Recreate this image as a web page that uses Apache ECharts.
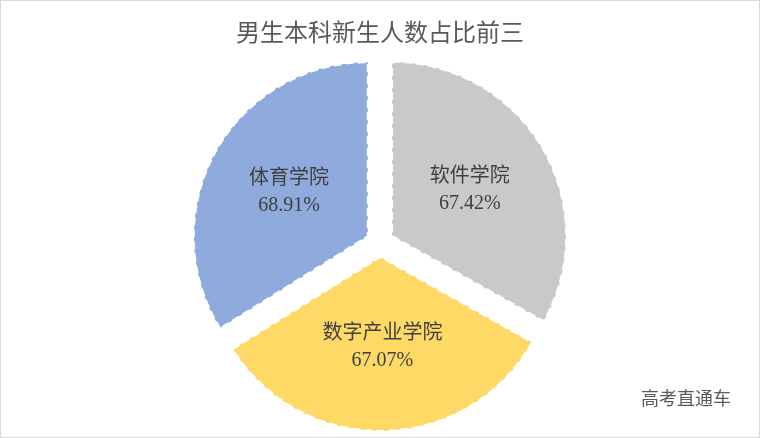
<!DOCTYPE html>
<html><head><meta charset="utf-8">
<script src="https://cdn.jsdelivr.net/npm/echarts@6/dist/echarts.min.js"></script>
<style>html,body{margin:0;padding:0;background:#fff}
#c{width:758px;height:436px;border:1px solid #d9d9d9}</style>
</head><body><div id="c"></div>
<script>
var names = ['软件学院', '数字产业学院', '体育学院'];
var values = [67.42, 67.07, 68.91];
var colors = ['#C9C9C9', '#FFD966', '#8FAADC'];

var chart = echarts.init(document.getElementById('c'));
chart.setOption({
  animation: false,
  title: {
    text: '男生本科新生人数占比前三', left: 'center', top: 14,
    textStyle: {fontSize: 24, fontWeight: 'normal', color: '#595959', fontFamily: 'Noto Sans CJK SC'}
  },
  graphic: [{type: 'text', right: 28, bottom: 30,
    style: {text: '高考直通车', fontSize: 18, fill: '#595959', fontFamily: 'Noto Sans CJK SC'}}],
  series: [{
    type: 'pie', center: ['50%', '55.5%'], radius: ['0%', '174'],
    startAngle: 90, clockwise: true,
    selectedMode: 'multiple', selectedOffset: 14,
    itemStyle: {borderColor: '#fff', borderWidth: 2, borderType: 'dashed'},
    label: {
      position: 'inner', color: '#404040', fontSize: 20, lineHeight: 27,
      fontFamily: 'Liberation Serif, Noto Sans CJK SC',
      formatter: function (p) { return p.name + '\n' + p.value.toFixed(2) + '%'; }
    },
    labelLine: {show: false},
    data: names.map(function (n, i) {
      return {name: n, value: values[i], selected: true, itemStyle: {color: colors[i]}};
    })
  }]
});
</script></body></html>
